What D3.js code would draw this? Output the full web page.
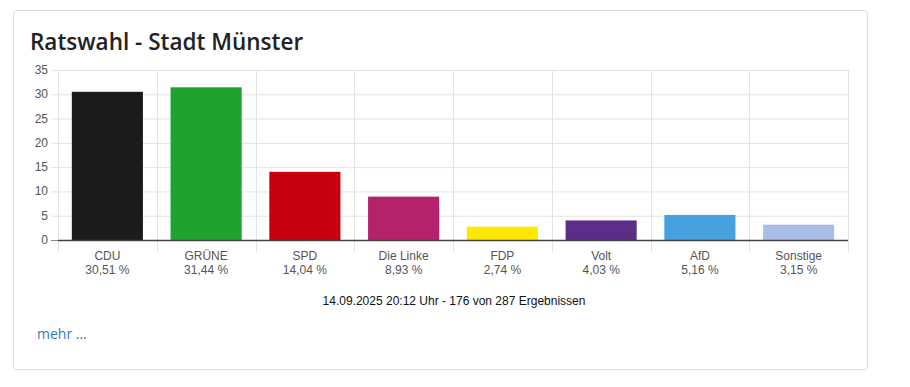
<!DOCTYPE html>
<html>
<head>
<meta charset="utf-8">
<script src="https://cdn.jsdelivr.net/npm/d3@7"></script>
<style>
  body { margin: 0; background: #fff; font-family: Arial, "Liberation Sans", sans-serif; }
  #card { position: absolute; left: 13px; top: 10px; width: 855px; height: 360px;
          border: 1px solid #ddd; border-radius: 4px; box-sizing: border-box; }
  #title { position: absolute; left: 16px; top: 15px; margin: 0; font-family: "Open Sans", sans-serif;
           font-size: 22.5px; font-weight: 600; color: #222; }
  #chart { position: absolute; left: 0; top: 0; }
  #mehr { position: absolute; left: 23px; top: 313px; font-family: "Open Sans", sans-serif;
          font-size: 14px; color: #337ab7; text-decoration: none; }
</style>
</head>
<body>
<div id="card">
  <h2 id="title">Ratswahl - Stadt Münster</h2>
  <svg id="chart" width="853" height="358"></svg>
  <a id="mehr" href="#">mehr ...</a>
</div>
<script>
var parties = ["CDU", "GRÜNE", "SPD", "Die Linke", "FDP", "Volt", "AfD", "Sonstige"];
var shares = [30.51, 31.44, 14.04, 8.93, 2.74, 4.03, 5.16, 3.15];
var colors = ["#1b1b1b", "#20a22f", "#c4000f", "#b3226a", "#ffe800", "#5a2d86", "#47a1df", "#a9bee6"];
var yTicks = [0, 5, 10, 15, 20, 25, 30, 35];
var footer = "14.09.2025 20:12 Uhr - 176 von 287 Ergebnissen";

var fmt = function(v){ return v.toFixed(2).replace(".", ",") + " %"; };

var svg = d3.select("#chart");
var ox = -14, oy = -11;   // card offset relative to page
var pLeft = 58 + ox, pRight = 848 + ox, pTop = 70 + oy, pBottom = 240 + oy;

var x = d3.scaleBand().domain(parties).range([pLeft, pRight]).paddingInner(0.28).paddingOuter(0.14);
var xb = d3.scaleBand().domain(parties).range([pLeft, pRight]);
var y = d3.scaleLinear().domain([0, 35]).range([pBottom, pTop]);

var g = svg.append("g");

// horizontal grid
g.selectAll("line.h").data(yTicks).enter().append("line")
  .attr("x1", pLeft - 7).attr("x2", pRight)
  .attr("y1", function(d){ return y(d) + 0.5; }).attr("y2", function(d){ return y(d) + 0.5; })
  .style("stroke", "#e3e3e3");

// vertical grid at category borders
var borders = parties.map(function(p){ return xb(p); }).concat([pRight]);
g.selectAll("line.v").data(borders).enter().append("line")
  .attr("x1", function(d){ return Math.round(d) + 0.5; }).attr("x2", function(d){ return Math.round(d) + 0.5; })
  .attr("y1", pTop).attr("y2", pBottom + 12)
  .style("stroke", "#e3e3e3");

// y labels
g.selectAll("text.y").data(yTicks).enter().append("text")
  .attr("x", pLeft - 10).attr("y", function(d){ return y(d) + 4; })
  .attr("text-anchor", "end")
  .style("font-size", "12px").style("fill", "#555")
  .text(function(d){ return d; });

// bars
g.selectAll("rect.bar").data(parties).enter().append("rect")
  .attr("x", function(d){ return x(d); })
  .attr("width", x.bandwidth())
  .attr("y", function(d, i){ return y(shares[i]); })
  .attr("height", function(d, i){ return pBottom - y(shares[i]); })
  .style("fill", function(d, i){ return colors[i]; });

// axis line
g.append("line").attr("x1", pLeft).attr("x2", pRight)
  .attr("y1", pBottom + 0.5).attr("y2", pBottom + 0.5)
  .style("stroke", "#444").style("stroke-width", 1.5);
g.append("line").attr("x1", pLeft - 7).attr("x2", pLeft)
  .attr("y1", pBottom + 0.5).attr("y2", pBottom + 0.5)
  .style("stroke", "#888");

// category labels
var lab = g.selectAll("g.lab").data(parties).enter().append("g")
  .attr("transform", function(d){ return "translate(" + (xb(d) + xb.bandwidth() / 2) + "," + pBottom + ")"; });
lab.append("text").attr("y", 20).attr("text-anchor", "middle")
  .style("font-size", "12px").style("fill", "#555").text(function(d){ return d; });
lab.append("text").attr("y", 34).attr("text-anchor", "middle")
  .style("font-size", "12px").style("fill", "#555").text(function(d, i){ return fmt(shares[i]); });

// footer
svg.append("text").attr("x", 454 + ox).attr("y", 305 + oy).attr("text-anchor", "middle")
  .style("font-size", "12px").style("fill", "#111").text(footer);
</script>
</body>
</html>
